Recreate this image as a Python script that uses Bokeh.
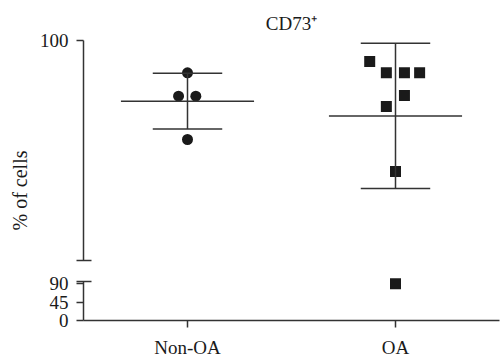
import numpy as np
from bokeh.plotting import figure
from bokeh.layouts import column
from bokeh.models import Range1d, FixedTicker, LinearAxis, Title
from bokeh.embed import file_html
from bokeh.resources import INLINE

# ---- data ----
groups = ["Non-OA", "OA"]
non_oa = [98.53, 97.47, 97.47, 95.5]
oa = [99.05, 98.53, 98.53, 98.53, 97.5, 97.0, 94.05, 89.4]
non_oa_jitter = [0.0, -0.043, 0.040, 0.0]
oa_jitter = [-0.124, -0.044, 0.043, 0.116, 0.043, -0.044, 0.0, 0.0]
upper_ticks = [100]
lower_ticks = [0, 45, 90]
break_at = 90
lower_top = 95
title_text = "CD73\u207a"
y_label = "% of cells"

# ---- style ----
FONT = "Liberation Serif"
LINE = "#333333"
INK = "#1a1a1a"
W = 500
LEFT = 79

xr = Range1d(0, 2)

top = figure(width=W, height=270, x_range=xr, y_range=Range1d(89.545, 100.182),
             x_axis_type=None, y_axis_type=None, output_backend="svg", toolbar_location=None,
             min_border_left=LEFT, min_border_right=1, min_border_top=36,
             min_border_bottom=0, title=title_text)
bot = figure(width=W, height=90, x_range=xr, y_range=Range1d(0, 122),
             y_axis_type=None, output_backend="svg", toolbar_location=None,
             min_border_left=LEFT, min_border_right=1, min_border_top=0,
             min_border_bottom=40)


def style_y(ax):
    ax.axis_line_color = LINE
    ax.axis_line_width = 1.5
    ax.major_tick_line_color = LINE
    ax.major_tick_line_width = 1.5
    ax.minor_tick_line_color = LINE
    ax.minor_tick_line_width = 1.5
    ax.major_tick_in = 0
    ax.major_tick_out = 7
    ax.minor_tick_in = 8
    ax.minor_tick_out = 7
    ax.major_label_text_font = FONT
    ax.major_label_text_font_size = "19px"
    ax.major_label_text_color = INK
    ax.major_label_standoff = 8


top_axis = LinearAxis(ticker=FixedTicker(ticks=upper_ticks, minor_ticks=[break_at]),
                      bounds=(break_at, 100))
style_y(top_axis)
top.add_layout(top_axis, "left")

# y-axis title, anchored from the bottom of the upper panel so it is centred on the broken axis
top.add_layout(Title(text=y_label, align="left", offset=40, standoff=12,
                     text_font=FONT, text_font_size="20px", text_font_style="normal",
                     text_color=INK), "left")

bot_axis = LinearAxis(ticker=FixedTicker(ticks=lower_ticks, minor_ticks=[lower_top]),
                      bounds=(0, lower_top))
style_y(bot_axis)
bot.add_layout(bot_axis, "left")

for p in (top, bot):
    p.grid.grid_line_color = None
    p.outline_line_color = None
    p.background_fill_color = None
    p.border_fill_color = None

top.title.text_font = FONT
top.title.text_font_size = "19px"
top.title.text_font_style = "normal"
top.title.text_color = INK
top.title.align = "center"
top.title.standoff = 6

xa = bot.xaxis[0]
xa.ticker = FixedTicker(ticks=[0.5, 1.5])
xa.major_label_overrides = {0.5: groups[0], 1.5: groups[1]}
xa.axis_line_color = LINE
xa.axis_line_width = 1.5
xa.major_tick_line_color = LINE
xa.major_tick_line_width = 1.5
xa.major_tick_in = 0
xa.major_tick_out = 7
xa.minor_tick_line_color = None
xa.major_label_text_font = FONT
xa.major_label_text_font_size = "19px"
xa.major_label_text_color = INK
xa.major_label_standoff = 9

series = [(non_oa, non_oa_jitter, "circle"), (oa, oa_jitter, "square")]
for i, (vals, jit, marker) in enumerate(series):
    vals = np.array(vals)
    xs = i + 0.5 + np.array(jit)
    hi = vals >= break_at
    top.scatter(xs[hi], vals[hi], marker=marker, size=11, fill_color=INK, line_color=None)
    if (~hi).any():
        bot.scatter(xs[~hi], vals[~hi], marker=marker, size=11, fill_color=INK, line_color=None)
    m = vals.mean()
    sd = vals.std(ddof=1)
    c = i + 0.5
    top.segment(x0=[c - 0.32], y0=[m], x1=[c + 0.32], y1=[m], line_color=LINE, line_width=1.5)
    top.segment(x0=[c - 0.167, c - 0.167], y0=[m - sd, m + sd],
                x1=[c + 0.167, c + 0.167], y1=[m - sd, m + sd], line_color=LINE, line_width=1.5)
    top.segment(x0=[c], y0=[m - sd], x1=[c], y1=[m + sd], line_color=LINE, line_width=1.5)

layout = column(top, bot)
open("out.html", "w").write(file_html(layout, INLINE))
